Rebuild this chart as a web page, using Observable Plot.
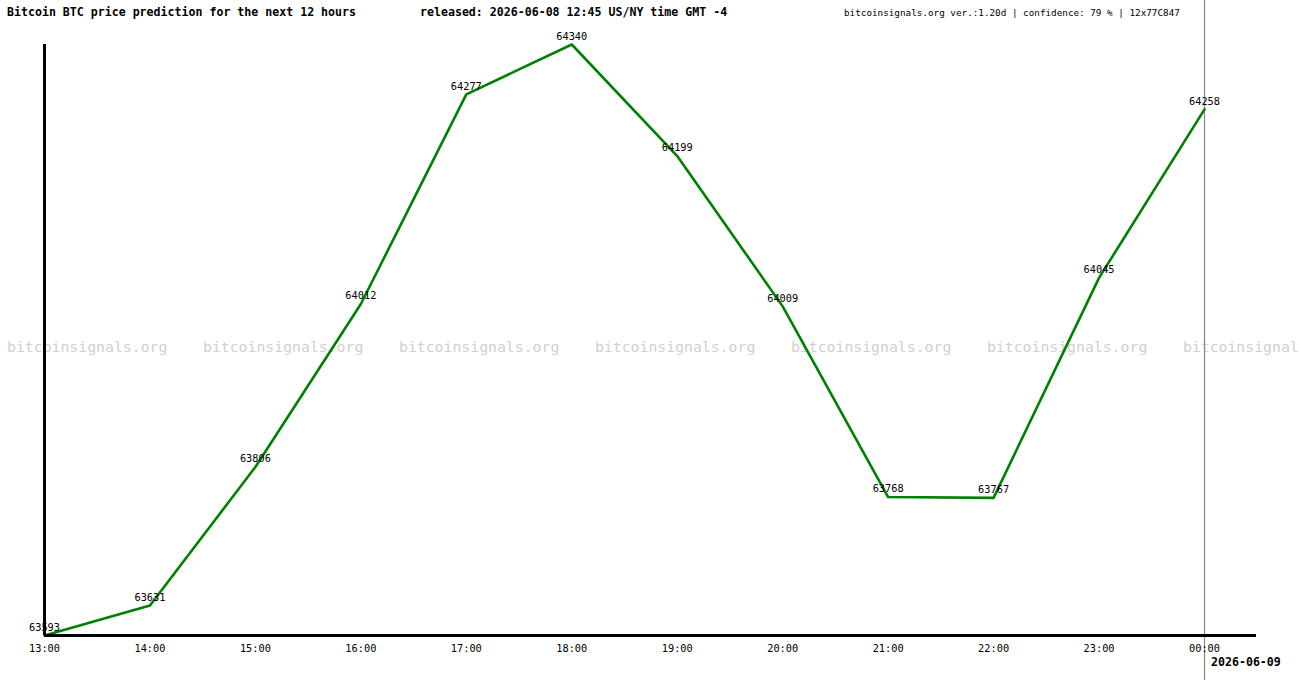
<!DOCTYPE html>
<html>
<head>
<meta charset="utf-8">
<script src="https://cdn.jsdelivr.net/npm/d3@7"></script>
<script src="https://cdn.jsdelivr.net/npm/@observablehq/plot@0.6"></script>
<style>
  html, body { margin: 0; padding: 0; background: #fff; }
  #wrap { position: relative; width: 1300px; height: 680px; overflow: hidden; font-family: "DejaVu Sans Mono", monospace; }
  .hdr { position: absolute; white-space: pre; line-height: 1; color: #000; }
  #title { left: 7px; top: 7px; font-size: 11.6px; font-weight: bold; }
  #released { left: 420px; top: 7px; font-size: 11.6px; font-weight: bold; }
  #meta { left: 844px; top: 8px; font-size: 9.3px; }
  #date { left: 1211px; top: 657px; font-size: 11.6px; font-weight: bold; }
  #wm { position: absolute; left: 7px; top: 340px; font-size: 14.8px; color: #d0d0d0; white-space: pre; line-height: 1; }
  #chart { position: absolute; left: 0; top: 0; }
  #chart svg { background: transparent !important; }
</style>
</head>
<body>
<div id="wrap">
  <div id="wm"></div>
  <div id="chart"></div>
  <div class="hdr" id="title"></div>
  <div class="hdr" id="released"></div>
  <div class="hdr" id="meta"></div>
  <div class="hdr" id="date"></div>
</div>
<script>
const hours = ["13:00","14:00","15:00","16:00","17:00","18:00","19:00","20:00","21:00","22:00","23:00","00:00"];
const prices = [63593, 63631, 63806, 64012, 64277, 64340, 64199, 64009, 63768, 63767, 64045, 64258];
const titleText = "Bitcoin BTC price prediction for the next 12 hours";
const releasedText = "released: 2026-06-08 12:45 US/NY time GMT -4";
const metaText = "bitcoinsignals.org ver.:1.20d | confidence: 79 % | 12x77C847";
const dateText = "2026-06-09";
const watermark = "bitcoinsignals.org";

document.getElementById("title").textContent = titleText;
document.getElementById("released").textContent = releasedText;
document.getElementById("meta").textContent = metaText;
document.getElementById("date").textContent = dateText;
document.getElementById("wm").textContent = Array(7).fill(watermark + "    ").join("");

const data = hours.map((h, i) => ({hour: h, price: prices[i]}));
const minP = d3.min(prices), maxP = d3.max(prices);

const chart = Plot.plot({
  width: 1300,
  height: 680,
  marginLeft: 44,
  marginRight: 44,
  marginTop: 44,
  marginBottom: 45,
  style: {background: "transparent", fontFamily: "DejaVu Sans Mono, monospace", fontSize: "10px", color: "#000"},
  x: {type: "point", domain: hours, range: [44, 1204], padding: 0, align: 0, round: false},
  y: {domain: [minP, maxP], range: [635, 44], axis: null},
  marks: [
    Plot.ruleX([hours[hours.length - 1]], {stroke: "#888", strokeWidth: 1.2, insetTop: -44, insetBottom: -45}),
    Plot.line(data, {x: "hour", y: "price", stroke: "#008000", strokeWidth: 2.6}),
    Plot.text(data, {x: "hour", y: "price", text: d => String(d.price), dy: -8, fill: "#000", fontSize: 10.3}),
    Plot.ruleX([hours[0]], {stroke: "#000", strokeWidth: 3}),
    Plot.ruleY([minP], {stroke: "#000", strokeWidth: 3}),
    Plot.axisX({tickSize: 0, tickPadding: 9, label: null, fontSize: 10.3})
  ]
});
document.getElementById("chart").appendChild(chart);
</script>
</body>
</html>
